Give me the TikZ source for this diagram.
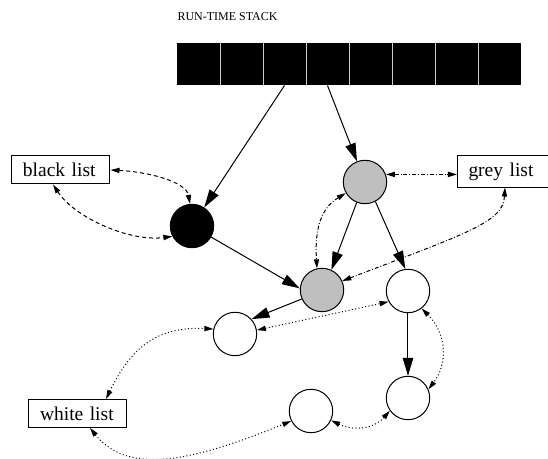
\documentclass[tikz,border=0pt]{standalone}
\usepackage{fontspec}
\setmainfont{Liberation Serif}
\usepackage{tikz}
\usetikzlibrary{arrows.meta}

\begin{document}
\begin{tikzpicture}[x=0.5pt, y=-0.5pt, line width=0.5pt,
   obj/.style={circle, draw=black, minimum size=21.7pt, inner sep=0pt},
   cell/.style={rectangle, fill=black, minimum width=21.5pt, minimum height=21pt, inner sep=0pt},
   listbox/.style={rectangle, draw=black, align=left, text width=38pt, inner xsep=5.5pt,
      minimum height=14pt, font=\fontsize{9.75}{11}\selectfont},
   pointer/.style={-{Triangle[length=9pt,width=5.3pt]}},
   twoway/.style={{Triangle[length=4.5pt,width=2.6pt]}-{Triangle[length=4.5pt,width=2.6pt]}},
   blacklink/.style={twoway, dash pattern=on 2pt off 1.5pt},
   greylink/.style={twoway, dash pattern=on 2pt off 1pt on 0.4pt off 1pt},
   whitelink/.style={twoway, dash pattern=on 0.5pt off 1.2pt}]

   \useasboundingbox (0,0) rectangle (548,459);

   \node[anchor=west, inner sep=0pt, font=\fontsize{6}{7}\selectfont] (title) at (177,17) {RUN-TIME STACK};

   \foreach \i in {1,...,8}
      \node[cell] (c\i) at ({155.5+43*\i},64) {};
   \foreach \i in {1,...,7}
      \draw[gray!40] (c\i.north east) -- (c\i.south east);

   \node[obj, fill=black] (bobj) at (192,226) {};
   \node[obj, fill=gray!50] (gobj1) at (365,182) {};
   \node[obj, fill=gray!50] (gobj2) at (322,290) {};
   \node[obj] (wobj1) at (408,291) {};
   \node[obj] (wobj2) at (235,334) {};
   \node[obj] (wobj3) at (408,398) {};
   \node[obj] (wobj4) at (311,411) {};

   \node[listbox] (blacklist) at (61,170) {black list};
   \node[listbox, anchor=west, text width=48pt] (greylist) at (457,171.5) {grey list};
   \node[listbox] (whitelist) at (78,413.5) {white list};

   \draw[pointer] (c3.south) -- (bobj);
   \draw[pointer] (c4.south) -- (gobj1);
   \draw[pointer] (bobj) -- (gobj2.176);
   \draw[pointer] (gobj1.-112) -- (gobj2.65);
   \draw[pointer] (gobj1.-62) -- (wobj1.97);
   \draw[pointer] (gobj2.204) -- (wobj2.42);
   \draw[pointer] (wobj1) -- (wobj3);

   \draw[blacklink] (blacklist.east) .. controls (150,172) and (186,182) .. (bobj.95);
   \draw[blacklink] ([xshift=-4pt]blacklist.south) .. controls (75,218) and (130,242) .. (bobj.208);

   \draw[greylink] (gobj1.20) -- (gobj1.20 -| greylist.west);
   \draw[greylink] ([xshift=24pt]greylist.south west) .. controls (503,222) and (470,232) .. (gobj2.24);
   \draw[greylink] (gobj1.210) .. controls (318,210) and (315,235) .. (gobj2.103);

   \draw[whitelink] ([xshift=14pt]whitelist.north) .. controls (130,350) and (155,326) .. (wobj2.167);
   \draw[whitelink] ([xshift=6pt]whitelist.south) .. controls (130,478) and (200,458) .. (wobj4.207);
   \draw[whitelink] (wobj2.10) -- (wobj1.209);
   \draw[whitelink] (wobj1.-52) .. controls (448,335) and (447,365) .. (wobj3.23);
   \draw[whitelink] (wobj4.-25) .. controls (355,432) and (375,428) .. (wobj3.215);

\end{tikzpicture}
\end{document}
